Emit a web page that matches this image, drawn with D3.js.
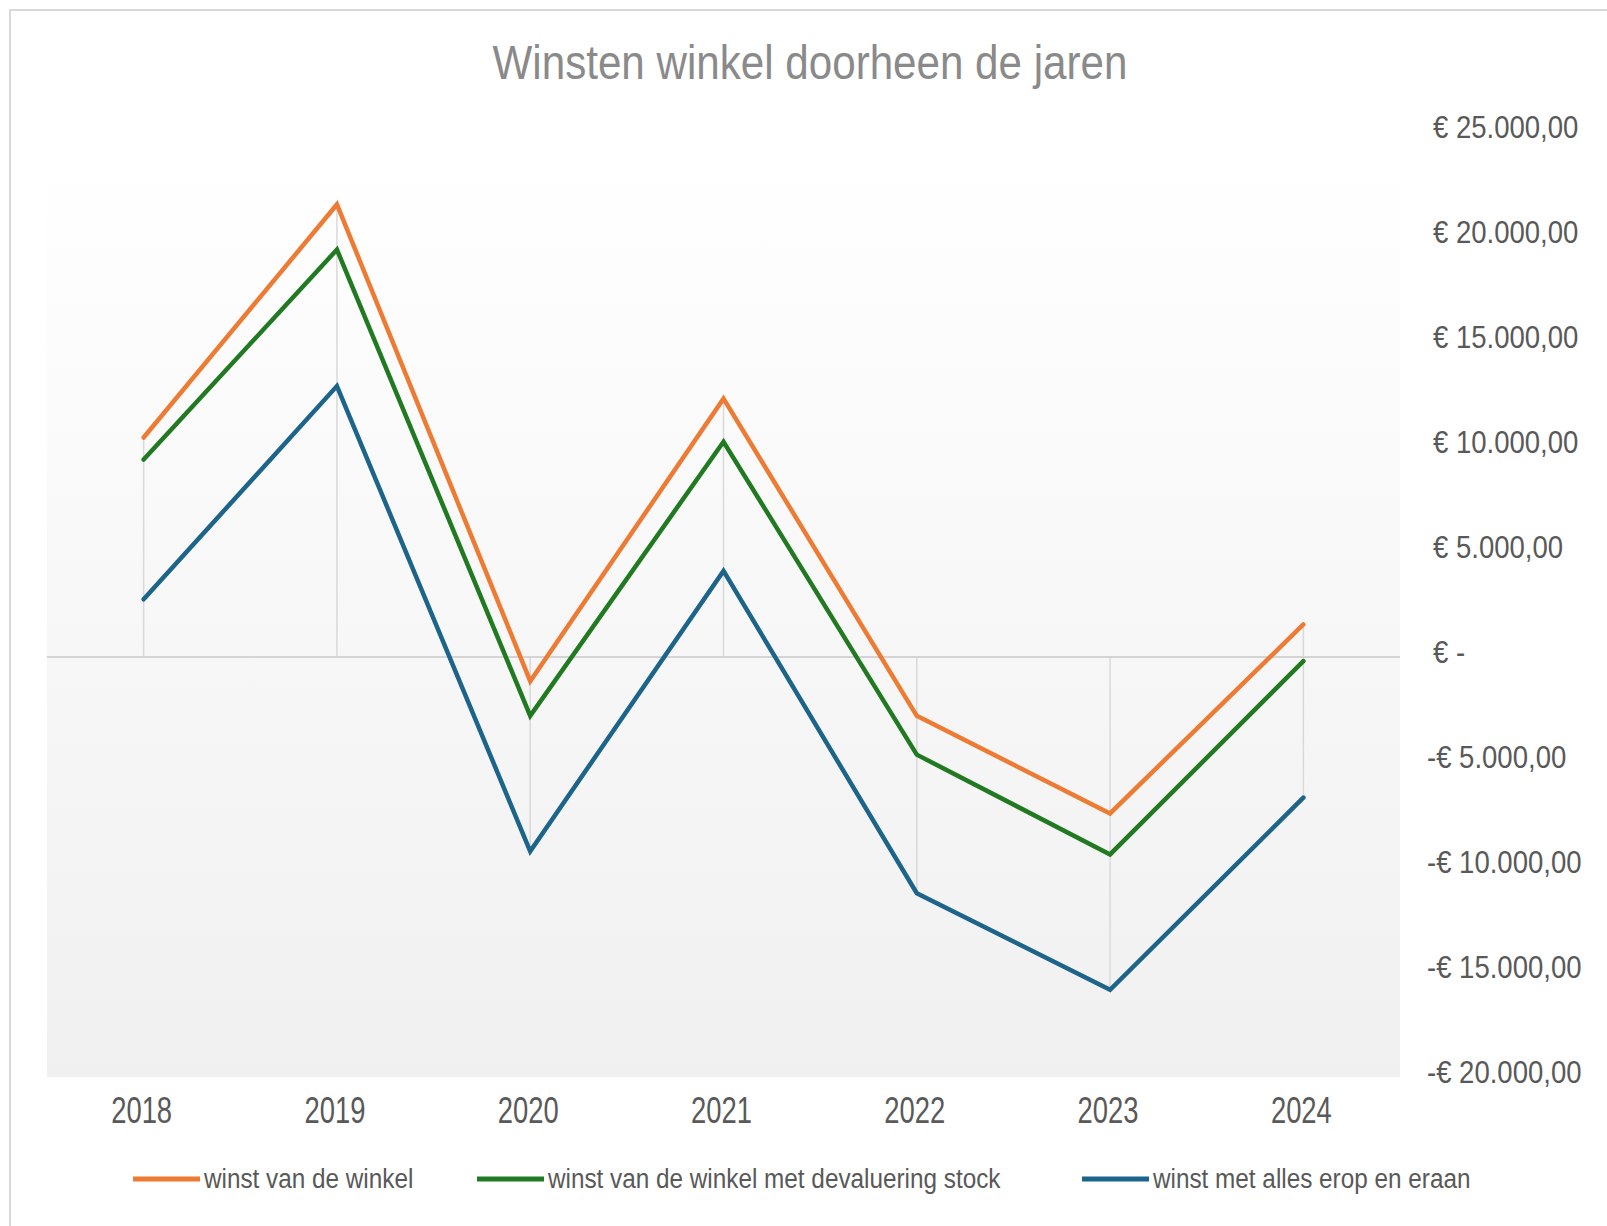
<!DOCTYPE html>
<html>
<head>
<meta charset="utf-8">
<script src="https://cdn.jsdelivr.net/npm/d3@7"></script>
<style>
  body { margin: 0; background: #fff; }
  text { font-family: "Liberation Sans", Arial, sans-serif; }
</style>
</head>
<body>
<div id="chart"></div>
<script>
// data
const years = ["2018", "2019", "2020", "2021", "2022", "2023", "2024"];
const winstWinkel = [10450, 21550, -1150, 12300, -2800, -7450, 1550];
const winstStock = [9400, 19400, -2800, 10250, -4650, -9400, -200];
const winstAlles = [2750, 12900, -9250, 4100, -11250, -15850, -6700];
const seriesNames = ["winst van de winkel", "winst van de winkel met devaluering stock", "winst met alles erop en eraan"];
const seriesColors = ["#EE7B33", "#217A22", "#1C6489"];
const yTicks = [25000, 20000, 15000, 10000, 5000, 0, -5000, -10000, -15000, -20000];

const Chart = (() => {

  let self = {};

  self.width = 1607;
  self.height = 1226;
  self.plot = {left: 47, right: 1400, top: 132, bottom: 1077};

  // squeeze text horizontally, the reference uses a narrow face
  const condense = (sel, k) => sel.each(function() {
    const w = this.getComputedTextLength();
    d3.select(this).attr("textLength", w * k).attr("lengthAdjust", "spacingAndGlyphs");
  });

  const nl = d3.formatLocale({decimal: ",", thousands: ".", grouping: [3], currency: ["€ ", ""]});
  const num = nl.format(",.2f");
  const euro = v => v === 0 ? "€ -" : (v < 0 ? "-€ " : "€ ") + num(Math.abs(v));

  self.draw = (divName) => {
    const svg = d3.select(divName).append("svg")
      .attr("width", self.width)
      .attr("height", self.height);

    // chart border
    svg.append("rect")
      .attr("x", 10).attr("y", 10)
      .attr("width", 1640).attr("height", 1260)
      .attr("fill", "#fff")
      .attr("stroke", "#D9D9D9")
      .attr("stroke-width", 2);

    const p = self.plot;

    /**
     * Plot area background: soft vertical gradient
     */
    const grad = svg.append("defs").append("linearGradient")
      .attr("id", "bg").attr("x1", 0).attr("y1", 0).attr("x2", 0).attr("y2", 1);
    grad.append("stop").attr("offset", "0%").attr("stop-color", "#FFFFFF");
    grad.append("stop").attr("offset", "100%").attr("stop-color", "#F0F0F0");

    svg.append("rect")
      .attr("x", p.left).attr("y", p.top)
      .attr("width", p.right - p.left).attr("height", p.bottom - p.top)
      .attr("fill", "url(#bg)");

    const x = d3.scaleBand()
      .domain(years)
      .range([p.left, p.right]);

    const y = d3.scaleLinear()
      .domain([-20000, 25000])
      .range([p.bottom, p.top]);

    const series = [winstWinkel, winstStock, winstAlles];

    // drop lines from the axis to the outermost point
    const g = svg.append("g");
    years.forEach((yr, i) => {
      const vals = series.map(s => s[i]);
      const hi = Math.max(0, d3.max(vals));
      const lo = Math.min(0, d3.min(vals));
      g.append("line")
        .attr("x1", x(yr) + x.bandwidth() / 2).attr("x2", x(yr) + x.bandwidth() / 2)
        .attr("y1", y(hi)).attr("y2", y(lo))
        .attr("stroke", "#D9D9D9")
        .attr("stroke-width", 1.5);
    });

    // zero line
    svg.append("line")
      .attr("x1", p.left).attr("x2", p.right)
      .attr("y1", y(0)).attr("y2", y(0))
      .attr("stroke", "#D4D4D4")
      .attr("stroke-width", 2);

    /**
     * The three lines
     */
    const line = d3.line()
      .x((d, i) => x(years[i]) + x.bandwidth() / 2)
      .y(d => y(d));

    svg.selectAll(".serie")
      .data(series)
      .enter()
      .append("path")
        .attr("class", "serie")
        .attr("d", line)
        .attr("fill", "none")
        .attr("stroke", (d, i) => seriesColors[i])
        .attr("stroke-width", 4.5)
        .attr("stroke-linecap", "round")
        .attr("stroke-linejoin", "miter");

    /**
     * Axes
     */
    const yAxis = svg.append("g")
      .attr("transform", `translate(1433,0)`)
      .call(d3.axisRight(y).tickValues(yTicks).tickSize(0).tickPadding(0).tickFormat(euro));
    yAxis.select(".domain").remove();
    yAxis.selectAll("text")
      .attr("x", d => d < 0 ? -6 : 0)
      .attr("y", -5)
      .attr("text-anchor", "start")
      .attr("fill", "#595959")
      .style("font-size", "32px")
      .call(condense, 0.86);

    const xAxis = svg.append("g")
      .attr("transform", `translate(0,${p.bottom})`)
      .call(d3.axisBottom(x).tickSize(0).tickPadding(20));
    xAxis.select(".domain").remove();
    xAxis.selectAll("text")
      .attr("x", -2)
      .attr("fill", "#595959")
      .style("font-size", "37px")
      .call(condense, 0.74);

    // title
    svg.append("text")
      .attr("x", 810).attr("y", 79)
      .attr("text-anchor", "middle")
      .attr("fill", "#8A8A8A")
      .style("font-size", "49px")
      .text("Winsten winkel doorheen de jaren")
      .call(condense, 0.86);

    /**
     * Legend
     */
    const legendX = [133, 477, 1082];
    const leg = svg.selectAll(".leg")
      .data(seriesNames)
      .enter()
      .append("g")
        .attr("class", "leg")
        .attr("transform", (d, i) => `translate(${legendX[i]},1179)`);
    leg.append("line")
      .attr("x1", 0).attr("x2", 67)
      .attr("stroke", (d, i) => seriesColors[i])
      .attr("stroke-width", 5);
    leg.append("text")
      .attr("x", 71).attr("y", 9)
      .attr("fill", "#595959")
      .style("font-size", "27px")
      .text(d => d)
      .call(condense, 0.9);
  };

  return self;
})();

Chart.draw("#chart");
</script>
</body>
</html>
